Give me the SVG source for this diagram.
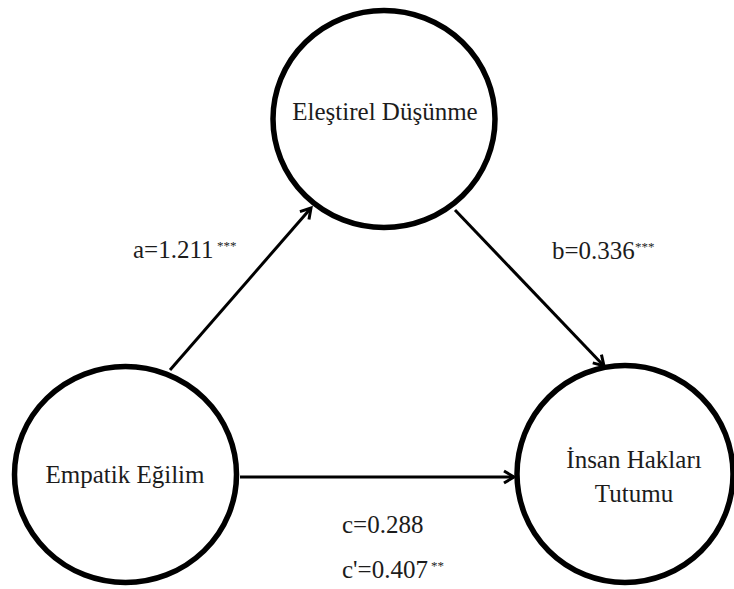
<svg xmlns="http://www.w3.org/2000/svg" width="734" height="589" viewBox="0 0 734 589">
<defs>
<style>
.node{fill:#fff;stroke:#000;stroke-width:5.5}
.edge{stroke:#000;stroke-width:3;fill:none}
</style>
<marker id="arr" markerUnits="userSpaceOnUse" markerWidth="16" markerHeight="16" refX="12" refY="7" orient="auto" viewBox="0 0 16 14">
<path d="M2,1 L12,7 L2,13" fill="none" stroke="#000" stroke-width="3" stroke-linejoin="miter"/>
</marker>
</defs>
<rect width="734" height="589" fill="#fff"/>
<g id="connectors">
<line class="edge" x1="170" y1="370" x2="311" y2="208" marker-end="url(#arr)"/>
<line class="edge" x1="455" y1="210" x2="604" y2="366" marker-end="url(#arr)"/>
<line class="edge" x1="240" y1="477" x2="514" y2="477" marker-end="url(#arr)"/>
</g>
<g font-family="Liberation Serif, DejaVu Serif, serif" font-size="25" fill="#1c1c1c">
<g id="node-elestirel">
<ellipse class="node" cx="384" cy="119" rx="111" ry="108.5"/>
<text x="385" y="120" text-anchor="middle">Eleştirel Düşünme</text>
</g>
<g id="node-empatik">
<ellipse class="node" cx="125.5" cy="474.5" rx="111" ry="108"/>
<text x="125" y="483" text-anchor="middle">Empatik Eğilim</text>
</g>
<g id="node-insan">
<ellipse class="node" cx="625" cy="474" rx="108" ry="108.5"/>
<text x="634" y="468" text-anchor="middle">İnsan Hakları</text>
<text x="634" y="502" text-anchor="middle">Tutumu</text>
</g>
<g id="labels">
<text x="133" y="258">a=1.211</text>
<text x="217" y="250" font-size="13">***</text>
<text x="552" y="259">b=0.336</text>
<text x="635" y="251" font-size="13">***</text>
<text x="342" y="533">c=0.288</text>
<text x="342" y="578">c'=0.407</text>
<text x="431" y="570" font-size="13">**</text>
</g>
</g>
</svg>
